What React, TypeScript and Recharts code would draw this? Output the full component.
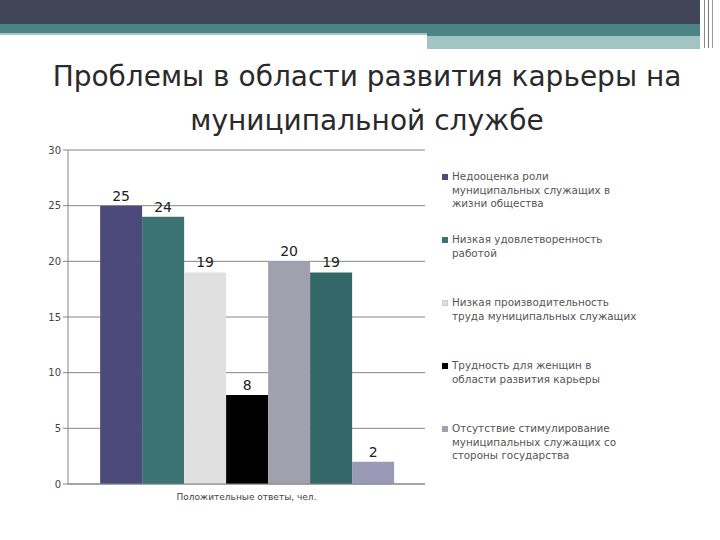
import React from 'react';
import { BarChart, Bar, XAxis, YAxis, CartesianGrid, Legend, LabelList } from 'recharts';

// категория (одна группа столбцов)
const CATEGORY = 'Положительные ответы, чел.';

// подписи легенды (переносы строк как на слайде)
const SERIES_NAMES = [
  'Недооценка роли\nмуниципальных служащих в\nжизни общества',
  'Низкая удовлетворенность\nработой',
  'Низкая производительность\nтруда муниципальных служащих',
  'Трудность для женщин в\nобласти развития карьеры',
  'Отсутствие стимулирование\nмуниципальных служащих со\nстороны государства',
  'Ряд 6',
  'Ряд 7',
];

const SERIES_VALUES = [25, 24, 19, 8, 20, 19, 2];

const COLORS = ['#4b4a7a', '#3d7272', '#e0e0e0', '#000000', '#a0a0ae', '#336666', '#9a9ab6'];

const Y_TICKS = [0, 5, 10, 15, 20, 25, 30];

const FONT = '"DejaVu Sans", Tahoma, sans-serif';

const chartData = [
  SERIES_VALUES.reduce<Record<string, string | number>>(
    (row, v, i) => {
      row[`s${i}`] = v;
      return row;
    },
    { category: CATEGORY }
  ),
];

const seriesIndex = (entry: any) => Number(String(entry.dataKey).slice(1));

// легенда справа, как в Excel (только видимые на слайде ряды, в исходном порядке)
const SlideLegend = ({ payload }: any) => {
  const items = (payload || [])
    .filter((e: any) => e.type !== 'none')
    .sort((a: any, b: any) => seriesIndex(a) - seriesIndex(b));
  return (
    <div style={{ fontFamily: FONT, fontSize: 10.4, color: '#555', lineHeight: '13.5px' }}>
      {items.map((entry: any, i: number) => (
        <div key={`leg-${i}`} style={{ position: 'relative', height: 63, paddingLeft: 12 }}>
          <span
            style={{
              position: 'absolute',
              left: 2,
              top: 4,
              width: 6,
              height: 6,
              background: entry.color,
              border: seriesIndex(entry) === 2 ? '1px solid #ccc' : 'none',
              boxSizing: 'border-box',
            }}
          />
          <div style={{ whiteSpace: 'pre-line' }}>{entry.value}</div>
        </div>
      ))}
    </div>
  );
};

export default function App() {
  return (
    <div style={{ position: 'fixed', left: 0, top: 0, width: 720, height: 540, background: '#fff', overflow: 'hidden' }}>
      {/* шапка слайда */}
      <div style={{ position: 'absolute', left: 0, top: 0, width: 700, height: 24, background: '#414558' }} />
      <div style={{ position: 'absolute', left: 0, top: 24, width: 700, height: 9, background: '#4a8484' }} />
      <div style={{ position: 'absolute', left: 0, top: 33, width: 427, height: 2, background: '#a7c3c6' }} />
      <div style={{ position: 'absolute', left: 427, top: 33, width: 273, height: 3, background: '#4a8484' }} />
      <div style={{ position: 'absolute', left: 427, top: 36, width: 273, height: 13, background: '#a2c4c4' }} />
      <div style={{ position: 'absolute', left: 704, top: 0, width: 1, height: 48, background: '#888' }} />
      <div style={{ position: 'absolute', left: 708, top: 0, width: 1, height: 48, background: '#777' }} />
      <div style={{ position: 'absolute', left: 712, top: 0, width: 1, height: 48, background: '#999' }} />

      <div
        style={{
          position: 'absolute',
          left: 0,
          top: 55,
          width: 734,
          textAlign: 'center',
          fontFamily: FONT,
          fontSize: 28,
          lineHeight: '44px',
          color: '#2a2a2a',
        }}
      >
        Проблемы в области развития карьеры на
        <br />
        муниципальной службе
      </div>

      <div style={{ position: 'absolute', left: 0, top: 140 }}>
        <BarChart
          width={720}
          height={380}
          data={chartData}
          margin={{ top: 10, right: 295, left: 0, bottom: 6 }}
          barCategoryGap="9%"
          barGap={0}
          style={{ fontFamily: FONT }}
        >
          <CartesianGrid vertical={false} stroke="#868686" />
          <XAxis
            dataKey="category"
            height={30}
            tickLine={false}
            tickSize={0}
            tickMargin={10}
            axisLine={{ stroke: '#868686' }}
            tick={{ fontSize: 9, fill: '#444' }}
          />
          <YAxis
            width={68}
            domain={[0, 30]}
            ticks={Y_TICKS}
            interval={0}
            tickSize={5}
            axisLine={{ stroke: '#868686' }}
            tickLine={{ stroke: '#868686' }}
            tick={{ fontSize: 10, fill: '#444' }}
          />
          <Legend
            layout="horizontal"
            verticalAlign="middle"
            align="center"
            content={<SlideLegend />}
            wrapperStyle={{ left: 440, top: 30, width: 260 }}
          />
          {SERIES_VALUES.map((_, i) => (
            <Bar
              key={`s${i}`}
              dataKey={`s${i}`}
              name={SERIES_NAMES[i]}
              fill={COLORS[i]}
              legendType={i < 5 ? 'square' : 'none'}
              isAnimationActive={false}
            >
              <LabelList dataKey={`s${i}`} position="top" offset={5} fill="#222" fontSize={14} />
            </Bar>
          ))}
        </BarChart>
      </div>
    </div>
  );
}
